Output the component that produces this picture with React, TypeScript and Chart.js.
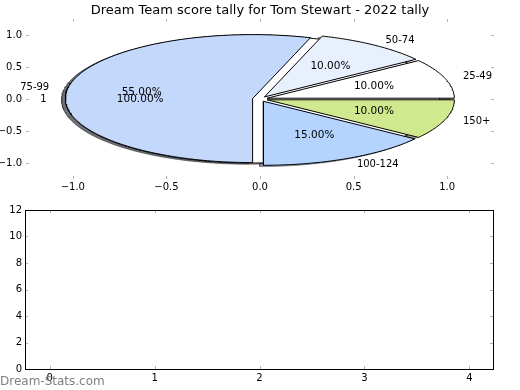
import React, { useEffect, useRef } from "react";
import { Chart, registerables } from "chart.js";
Chart.register(...registerables);

const chartTitle = "Dream Team score tally for Tom Stewart - 2022 tally";
const categories = ["25-49", "50-74", "75-99", "100-124", "150+"];
const shares = [10, 10, 55, 15, 10];
const sliceColors = ["#ffffff", "#e8f0fd", "#c4d8fc", "#b5d4fd", "#d1e98e"];
const explode = [0.04, 0.04, 0.04, 0.04, 0.04];
const totalLabels = ["1"];
const totalShares = [1];
const totalColors = ["#ffffff"];
const totalExplode = [0.04];
const pieXTicks = [-1, -0.5, 0, 0.5, 1];
const pieYTicks = [-1, -0.5, 0, 0.5, 1];
const barXTicks = [0, 1, 2, 3, 4];
const barYTicks = [0, 2, 4, 6, 8, 10, 12];
const watermark = "Dream-Stats.com";

const FONT = "'DejaVu Sans', sans-serif";
const SHADOW = [-0.02, -0.02];

type Wedge = { t1: number; t2: number; cx: number; cy: number; tm: number; pct: number; full: boolean };

function buildWedges(values: number[], expl: number[]): Wedge[] {
  const total = values.reduce((a, b) => a + b, 0);
  let cum = 0;
  return values.map((v, i) => {
    const t1 = (360 * cum) / total;
    cum += v;
    const t2 = (360 * cum) / total;
    const tm = (((t1 + t2) / 2) * Math.PI) / 180;
    return {
      t1,
      t2,
      tm,
      cx: expl[i] * Math.cos(tm),
      cy: expl[i] * Math.sin(tm),
      pct: (100 * v) / total,
      full: Math.abs(t2 - t1 - 360) < 1e-9,
    };
  });
}

function outline(w: Wedge, dx = 0, dy = 0) {
  const pts: { x: number; y: number }[] = [];
  if (!w.full) pts.push({ x: w.cx + dx, y: w.cy + dy });
  const n = Math.max(2, Math.ceil(w.t2 - w.t1));
  for (let k = 0; k <= n; k++) {
    const a = ((w.t1 + ((w.t2 - w.t1) * k) / n) * Math.PI) / 180;
    pts.push({ x: w.cx + dx + Math.cos(a), y: w.cy + dy + Math.sin(a) });
  }
  if (!w.full) pts.push({ x: w.cx + dx, y: w.cy + dy });
  return pts;
}

function shadowColor(hex: string) {
  const r = parseInt(hex.slice(1, 3), 16) * 0.3;
  const g = parseInt(hex.slice(3, 5), 16) * 0.3;
  const b = parseInt(hex.slice(5, 7), 16) * 0.3;
  return `rgba(${r.toFixed(0)},${g.toFixed(0)},${b.toFixed(0)},0.5)`;
}

const insideTicks = (frame: boolean) => ({
  id: "insideTicks",
  afterDraw(chart: any) {
    const { ctx, chartArea: a } = chart;
    ctx.save();
    ctx.strokeStyle = "#b5b5b5";
    ctx.lineWidth = 1;
    const len = 3;
    const xs = chart.scales.x;
    const ys = chart.scales.y;
    ctx.beginPath();
    xs.ticks.forEach((t: any) => {
      const p = Math.round(xs.getPixelForValue(t.value)) + 0.5;
      ctx.moveTo(p, a.top);
      ctx.lineTo(p, a.top + len);
      ctx.moveTo(p, a.bottom);
      ctx.lineTo(p, a.bottom - len);
    });
    ys.ticks.forEach((t: any) => {
      const p = Math.round(ys.getPixelForValue(t.value)) + 0.5;
      ctx.moveTo(a.left, p);
      ctx.lineTo(a.left + len, p);
      ctx.moveTo(a.right, p);
      ctx.lineTo(a.right - len, p);
    });
    ctx.stroke();
    if (frame) {
      ctx.strokeStyle = "#000";
      ctx.strokeRect(a.left + 0.5, a.top + 0.5, a.right - a.left, a.bottom - a.top);
    }
    ctx.restore();
  },
});

const pieText = {
  id: "pieText",
  afterDatasetsDraw(chart: any) {
    const { ctx } = chart;
    const xs = chart.scales.x;
    const ys = chart.scales.y;
    ctx.save();
    ctx.fillStyle = "#000";
    ctx.textBaseline = "middle";
    const drawSet = (labels: string[], ws: Wedge[]) => {
      ws.forEach((w, i) => {
        const lx = w.cx + 1.1 * Math.cos(w.tm);
        const ly = w.cy + 1.1 * Math.sin(w.tm);
        ctx.font = `10px ${FONT}`;
        ctx.textAlign = lx > 0 ? "left" : "right";
        ctx.fillText(labels[i], xs.getPixelForValue(lx), ys.getPixelForValue(ly));
        const px = w.cx + 0.6 * Math.cos(w.tm);
        const py = w.cy + 0.6 * Math.sin(w.tm);
        ctx.font = `10.5px ${FONT}`;
        ctx.textAlign = "center";
        ctx.fillText(w.pct.toFixed(2) + "%", xs.getPixelForValue(px), ys.getPixelForValue(py));
      });
    };
    drawSet(categories, buildWedges(shares, explode));
    drawSet(totalLabels, buildWedges(totalShares, totalExplode));
    ctx.font = `13px ${FONT}`;
    ctx.textAlign = "center";
    ctx.textBaseline = "alphabetic";
    ctx.fillText(chartTitle, chart.width / 2, 14);
    ctx.restore();
  },
};

const watermarkPlugin = {
  id: "watermark",
  afterDraw(chart: any) {
    const { ctx } = chart;
    ctx.save();
    ctx.font = `12px ${FONT}`;
    ctx.fillStyle = "#808080";
    ctx.textAlign = "left";
    ctx.textBaseline = "alphabetic";
    ctx.fillText(watermark, 0, 185);
    ctx.restore();
  },
};

const fmt1 = (v: number) => v.toFixed(1).replace("-", "\u2212");

function wedgeDataset(pts: any[], fillColor: string, edge: string, order: number) {
  return {
    data: pts,
    showLine: true,
    fill: "shape",
    backgroundColor: fillColor,
    borderColor: edge,
    borderWidth: 1,
    pointRadius: 0,
    tension: 0,
    order,
  };
}

export default function App() {
  const topRef = useRef<HTMLCanvasElement>(null);
  const botRef = useRef<HTMLCanvasElement>(null);

  useEffect(() => {
    const ws = buildWedges(shares, explode);
    const tws = buildWedges(totalShares, totalExplode);
    const wedgeSets = ws.map((w, i) => wedgeDataset(outline(w), sliceColors[i], "#000", 50 - i));
    const totalSets = tws.map((w, i) => wedgeDataset(outline(w), totalColors[i], "#000", 70 - i));
    const shadowSets = ws.map((w, i) =>
      wedgeDataset(outline(w, SHADOW[0], SHADOW[1]), shadowColor(sliceColors[i]), shadowColor(sliceColors[i]), 100 - i)
    );
    const totalShadowSets = tws.map((w, i) =>
      wedgeDataset(outline(w, SHADOW[0], SHADOW[1]), shadowColor(totalColors[i]), shadowColor(totalColors[i]), 120 - i)
    );

    const tickFont = { family: FONT, size: 10 };
    const top = new Chart(topRef.current!, {
      type: "scatter",
      data: { datasets: [...wedgeSets, ...totalSets, ...shadowSets, ...totalShadowSets] as any },
      options: {
        animation: false,
        responsive: false,
        events: [],
        layout: { padding: { left: 0, right: 26, top: 19, bottom: 0 } },
        plugins: {
          legend: { display: false },
          tooltip: { enabled: false },
          title: { display: false },
        },
        scales: {
          x: {
            type: "linear",
            min: -1.25,
            max: 1.25,
            grid: { display: false, drawTicks: false },
            border: { display: false },
            afterFit: (s: any) => {
              s.height = 21;
            },
            afterBuildTicks: (s: any) => {
              s.ticks = pieXTicks.map((v) => ({ value: v }));
            },
            ticks: { color: "#000", font: tickFont, padding: 2, maxRotation: 0, callback: (v: any) => fmt1(Number(v)) },
          },
          y: {
            type: "linear",
            min: -1.25,
            max: 1.25,
            grid: { display: false, drawTicks: false },
            border: { display: false },
            afterFit: (s: any) => {
              s.width = 26;
            },
            afterBuildTicks: (s: any) => {
              s.ticks = pieYTicks.map((v) => ({ value: v }));
            },
            ticks: { color: "#000", font: tickFont, padding: 4, callback: (v: any) => fmt1(Number(v)) },
          },
        },
      } as any,
      plugins: [insideTicks(false), pieText],
    });

    const bottom = new Chart(botRef.current!, {
      type: "scatter",
      data: { datasets: [] },
      options: {
        animation: false,
        responsive: false,
        events: [],
        layout: { padding: { left: 0, right: 27, top: 10, bottom: 0 } },
        plugins: { legend: { display: false }, tooltip: { enabled: false } },
        scales: {
          x: {
            type: "linear",
            min: -0.235,
            max: 4.225,
            grid: { display: false, drawTicks: false },
            border: { display: false },
            afterFit: (s: any) => {
              s.height = 21;
            },
            afterBuildTicks: (s: any) => {
              s.ticks = barXTicks.map((v) => ({ value: v }));
            },
            ticks: { color: "#000", font: tickFont, padding: 3, maxRotation: 0, callback: (v: any) => String(v) },
          },
          y: {
            type: "linear",
            min: 0,
            max: 12,
            grid: { display: false, drawTicks: false },
            border: { display: false },
            afterFit: (s: any) => {
              s.width = 25;
            },
            afterBuildTicks: (s: any) => {
              s.ticks = barYTicks.map((v) => ({ value: v }));
            },
            ticks: { color: "#000", font: tickFont, padding: 3, callback: (v: any) => String(v) },
          },
        },
      } as any,
      plugins: [insideTicks(true), watermarkPlugin],
    });

    return () => {
      top.destroy();
      bottom.destroy();
    };
  }, []);

  return (
    <div style={{ position: "absolute", left: 0, top: 0, width: 520, height: 390, background: "#fff" }}>
      <canvas ref={topRef} width={520} height={200} style={{ position: "absolute", left: 0, top: 0, width: 520, height: 200 }} />
      <canvas ref={botRef} width={520} height={190} style={{ position: "absolute", left: 0, top: 200, width: 520, height: 190 }} />
    </div>
  );
}
